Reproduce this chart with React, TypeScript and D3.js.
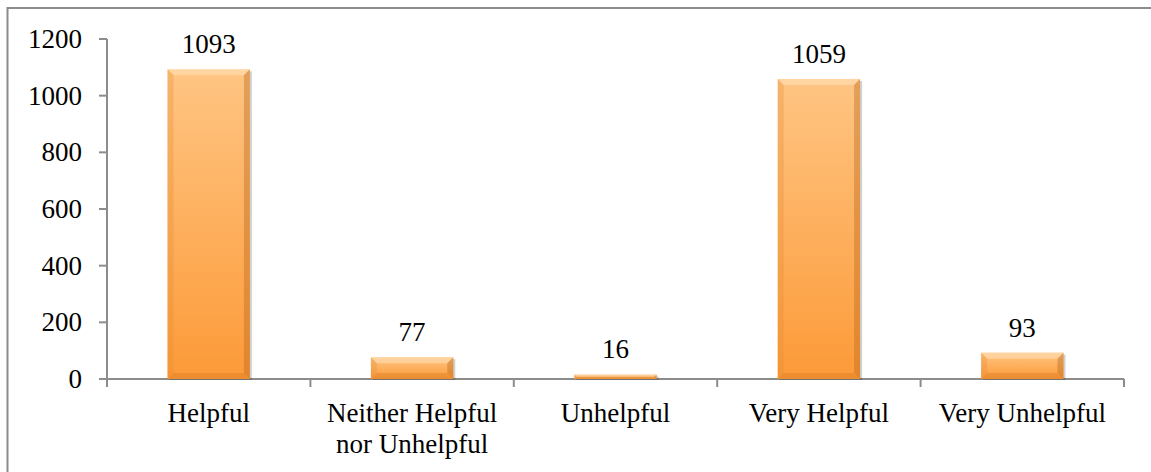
import React from "react";
import * as d3 from "d3";

const categories = [
  ["Helpful"],
  ["Neither Helpful", "nor Unhelpful"],
  ["Unhelpful"],
  ["Very Helpful"],
  ["Very Unhelpful"],
];
const values = [1093, 77, 16, 1059, 93];
const yTicks = [0, 200, 400, 600, 800, 1000, 1200];

const width = 1151;
const height = 472;
const margin = { top: 39, right: 27, bottom: 93, left: 107 };
const font = "'Liberation Serif', 'Times New Roman', serif";
const fs = 27;

export default function App() {
  const innerW = width - margin.left - margin.right;
  const innerH = height - margin.top - margin.bottom;

  const x = d3.scaleBand<number>().domain(d3.range(values.length)).range([0, innerW]).padding(0);
  const y = d3.scaleLinear().domain([0, 1200]).range([innerH, 0]);
  const barW = x.bandwidth() * 0.405;
  const bev = 6;

  return (
    <div style={{ position: "absolute", left: 0, top: 0 }}>
      <svg width={width} height={height} style={{ display: "block", background: "#fff" }}>
        <defs>
          <linearGradient id="barGrad" x1="0" x2="0" y1="0" y2="1">
            <stop offset="0%" stopColor="#ffc583" />
            <stop offset="100%" stopColor="#fc9a38" />
          </linearGradient>
        </defs>

        {/* chart frame */}
        <rect x={7.5} y={8} width={width + 10} height={height + 10} fill="none" stroke="#8c8c8c" strokeWidth={2} />

        <g transform={`translate(${margin.left},${margin.top})`}>
          {/* y axis */}
          <line x1={0} x2={0} y1={0} y2={innerH + 8} stroke="#8c8c8c" strokeWidth={2} />
          {yTicks.map((t) => (
            <g key={t} transform={`translate(0,${y(t)})`}>
              <line x1={-8} x2={0} stroke="#8c8c8c" strokeWidth={2} />
              <text x={-25} dy="0.33em" textAnchor="end" fontFamily={font} fontSize={fs} fill="#000">
                {t}
              </text>
            </g>
          ))}

          {/* x axis */}
          <line x1={0} x2={innerW} y1={innerH} y2={innerH} stroke="#8c8c8c" strokeWidth={2} />
          {d3.range(values.length + 1).map((i) => {
            const px = i < values.length ? x(i)! : innerW;
            return <line key={i} x1={px} x2={px} y1={innerH} y2={innerH + 8} stroke="#8c8c8c" strokeWidth={2} />;
          })}

          {/* bars */}
          {values.map((v, i) => {
            const cx = x(i)! + x.bandwidth() / 2;
            const x0 = cx - barW / 2;
            const x1 = cx + barW / 2;
            const y0 = y(v);
            const y1 = y(0);
            const b = Math.min(bev, (y1 - y0) / 2);
            return (
              <g key={i}>
                <rect x={x0 + 2} y={y0 + 2} width={barW} height={y1 - y0 - 1} fill="#000" opacity={0.18} />
                <rect x={x0} y={y0} width={barW} height={y1 - y0} fill="url(#barGrad)" />
                {/* bevel: top */}
                <polygon
                  points={`${x0},${y0} ${x1},${y0} ${x1 - b},${y0 + b} ${x0 + b},${y0 + b}`}
                  fill="#ffe9c8"
                  opacity={0.45}
                />
                {/* bevel: left */}
                <polygon
                  points={`${x0},${y0} ${x0 + b},${y0 + b} ${x0 + b},${y1 - b} ${x0},${y1}`}
                  fill="#e08a36"
                  opacity={0.3}
                />
                {/* bevel: right */}
                <polygon
                  points={`${x1},${y0} ${x1},${y1} ${x1 - b},${y1 - b} ${x1 - b},${y0 + b}`}
                  fill="#b8661c"
                  opacity={0.4}
                />
                {/* bevel: bottom */}
                <polygon
                  points={`${x0},${y1} ${x1},${y1} ${x1 - b},${y1 - b} ${x0 + b},${y1 - b}`}
                  fill="#c8701f"
                  opacity={0.3}
                />
                <text x={cx} y={y0 - 16} textAnchor="middle" fontFamily={font} fontSize={fs} fill="#000">
                  {v}
                </text>
              </g>
            );
          })}

          {/* category labels */}
          {categories.map((lines, i) => {
            const cx = x(i)! + x.bandwidth() / 2;
            return (
              <text key={i} textAnchor="middle" fontFamily={font} fontSize={fs} fill="#000">
                {lines.map((l, j) => (
                  <tspan key={j} x={cx} y={innerH + 43 + j * 31}>
                    {l}
                  </tspan>
                ))}
              </text>
            );
          })}
        </g>
      </svg>
    </div>
  );
}
